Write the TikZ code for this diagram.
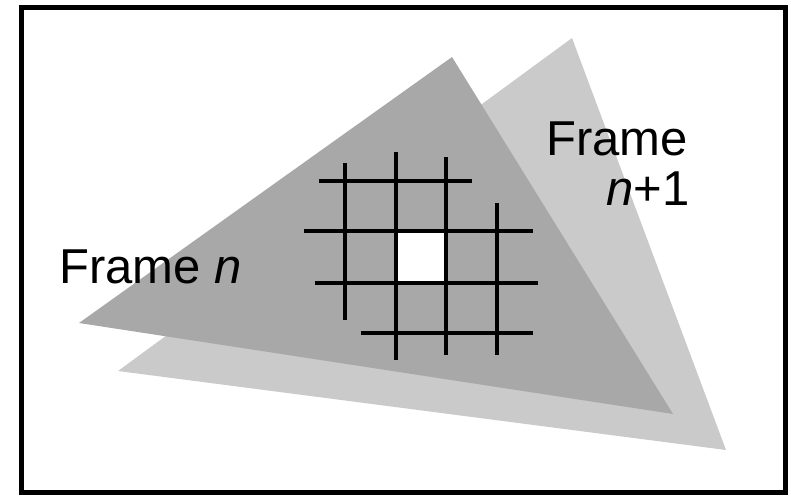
\documentclass[tikz,border=0pt]{standalone}
\usepackage{fontspec}
\setmainfont{Liberation Sans}
\definecolor{darkframe}{RGB}{168,168,168}
\definecolor{lightframe}{RGB}{202,202,202}
\tikzset{
  gridline/.style={line width=4.7pt, black},
  lbl/.style={inner sep=0pt, font=\fontsize{49}{52}\selectfont},
}
\begin{document}
\begin{tikzpicture}[x=1pt,y=-1pt]
\useasboundingbox (0,0) rectangle (791,495);
% Frame n+1 (light)
\fill[lightframe] (572,38) -- (726,450) -- (118,371) -- cycle;
% Frame n (dark)
\fill[darkframe] (452,57) -- (673,414) -- (79,323) -- cycle;
% white cell
\fill[white] (396,231) rectangle (446,283);
% vertical lines
\draw[gridline] (345,163) -- (345,320);
\draw[gridline] (396,152) -- (396,360);
\draw[gridline] (446,157) -- (446,355);
\draw[gridline] (497,203) -- (497,355);
% horizontal lines
\draw[gridline] (319,181) -- (472,181);
\draw[gridline] (304,231) -- (533,231);
\draw[gridline] (315,283) -- (538,283);
\draw[gridline] (361,333) -- (533,333);
% labels
\node[lbl, anchor=base west] (fn) at (59,283) {Frame \textit{n}};
\node[lbl, anchor=base west] (fn1a) at (546,155) {Frame};
\node[lbl, anchor=base east] (fn1b) at (690,205) {\textit{n}+1};
% border
\draw[line width=5pt] (21,7.5) rectangle (785,492);
\end{tikzpicture}
\end{document}
